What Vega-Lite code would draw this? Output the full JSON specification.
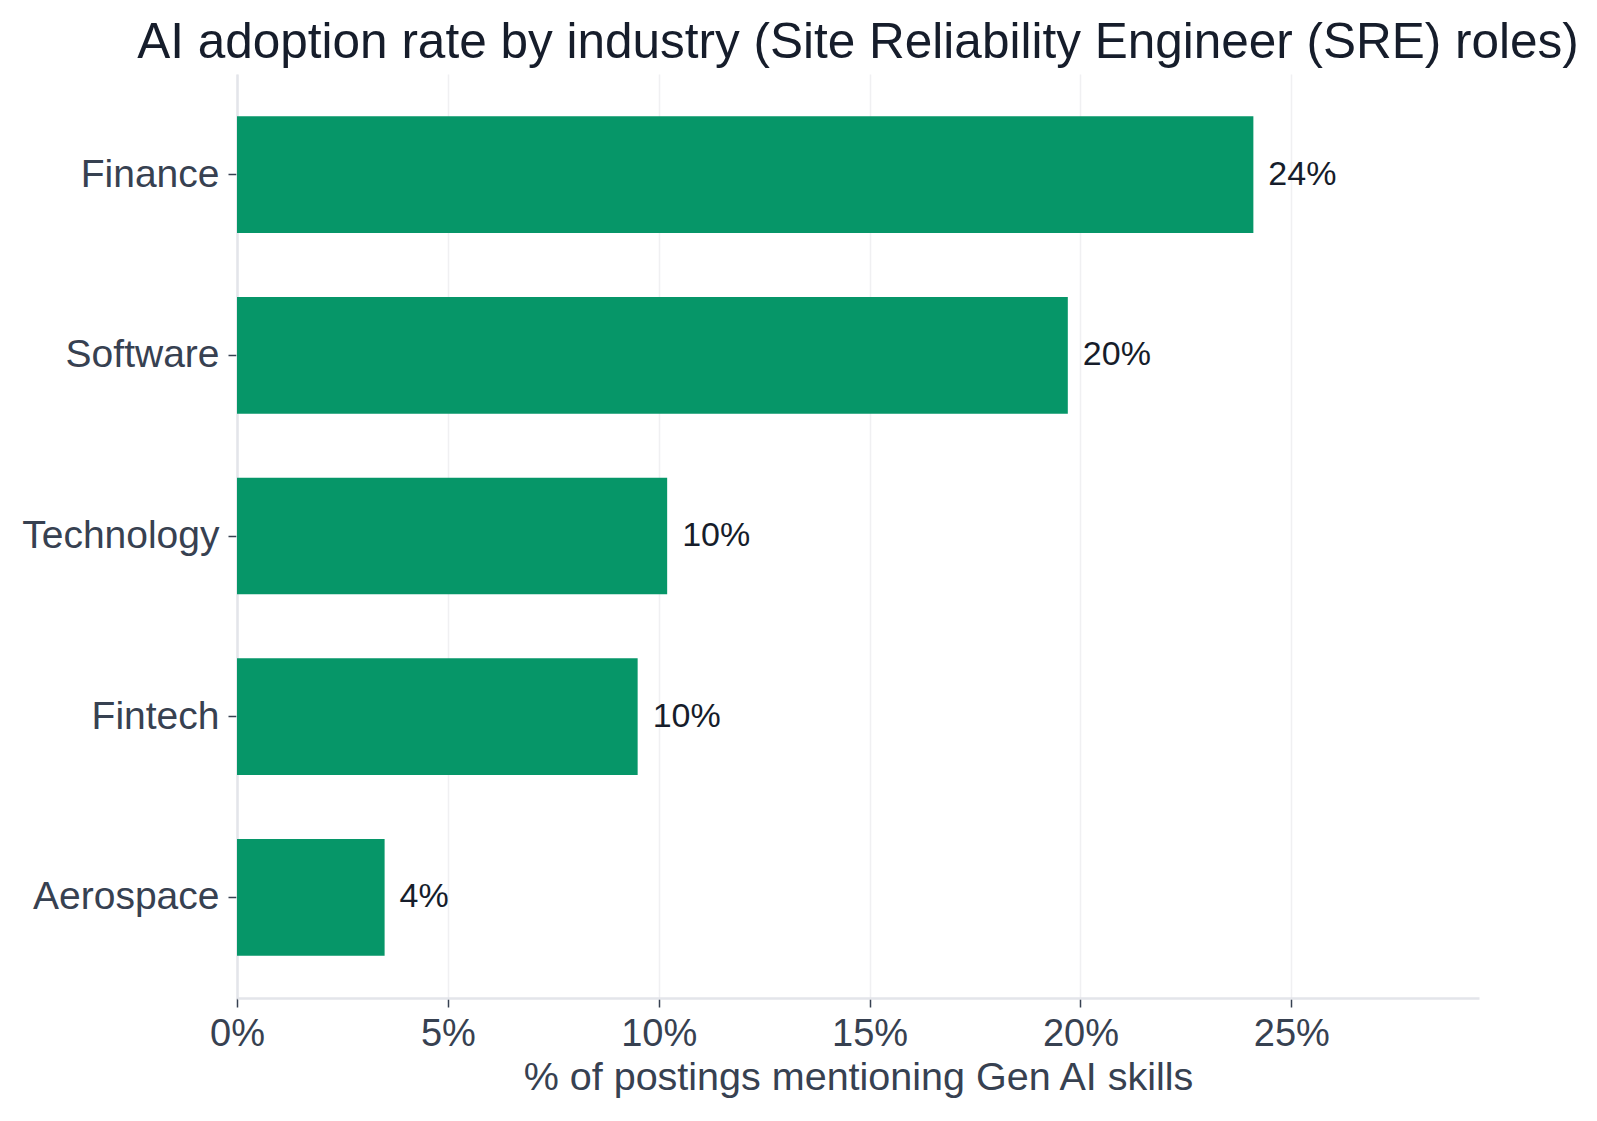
{
  "$schema": "https://vega.github.io/schema/vega-lite/v6.json",
  "autosize": {"type": "none"},
  "width": 1242,
  "height": 924,
  "padding": {"left": 237, "top": 74, "right": 118, "bottom": 123},
  "background": "white",
  "title": {
    "text": "AI adoption rate by industry (Site Reliability Engineer (SRE) roles)",
    "anchor": "middle",
    "frame": "group",
    "offset": 6,
    "font": "Liberation Sans",
    "fontSize": 49.5,
    "fontWeight": "normal",
    "color": "#161d2b"
  },
  "config": {
    "view": {"stroke": null},
    "font": "Liberation Sans"
  },
  "data": {
    "values": [
      {"industry": "Finance", "share": 0.241},
      {"industry": "Software", "share": 0.197},
      {"industry": "Technology", "share": 0.102},
      {"industry": "Fintech", "share": 0.095},
      {"industry": "Aerospace", "share": 0.035}
    ]
  },
  "encoding": {
    "y": {
      "field": "industry",
      "type": "nominal",
      "sort": "-x",
      "scale": {"paddingInner": 0.354, "paddingOuter": 0.234},
      "axis": {
        "title": null,
        "labelFont": "Liberation Sans",
        "labelFontSize": 39,
        "labelColor": "#374151",
        "labelPadding": 9,
        "labelLimit": 0,
        "tickSize": 9,
        "tickColor": "#374151",
        "tickWidth": 1.5,
        "domainColor": "#e3e5ea",
        "domainWidth": 2.5,
        "grid": false
      }
    },
    "x": {
      "field": "share",
      "type": "quantitative",
      "scale": {"domain": [0, 0.2945], "nice": false},
      "axis": {
        "title": "% of postings mentioning Gen AI skills",
        "format": ".0%",
        "values": [0, 0.05, 0.1, 0.15, 0.2, 0.25],
        "labelFlush": false,
        "titleFont": "Liberation Sans",
        "titleFontSize": 39.5,
        "titleFontWeight": "normal",
        "titleColor": "#374151",
        "titlePadding": 5,
        "labelFont": "Liberation Sans",
        "labelFontSize": 38,
        "labelColor": "#374151",
        "labelPadding": 8,
        "tickSize": 9,
        "tickColor": "#374151",
        "tickWidth": 1.5,
        "domainColor": "#e3e5ea",
        "domainWidth": 2.5,
        "grid": true,
        "gridColor": "#f0f0f2",
        "gridWidth": 1.5
      }
    }
  },
  "layer": [
    {"mark": {"type": "bar", "color": "#069668"}},
    {
      "mark": {
        "type": "text",
        "align": "left",
        "baseline": "middle",
        "dx": 15,
        "font": "Liberation Sans",
        "fontSize": 34,
        "color": "#161d2b"
      },
      "encoding": {
        "text": {"field": "share", "type": "quantitative", "format": ".0%"}
      }
    }
  ]
}
